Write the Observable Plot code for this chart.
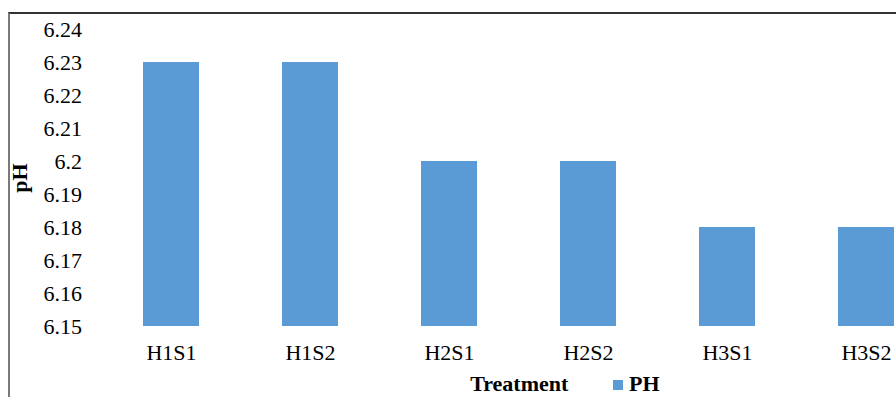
<!DOCTYPE html>
<html>
<head>
<meta charset="utf-8">
<script src="https://cdn.jsdelivr.net/npm/d3@7"></script>
<script src="https://cdn.jsdelivr.net/npm/@observablehq/plot@0.6"></script>
<style>
  html, body { margin: 0; padding: 0; background: #fff; overflow: hidden; }
  #wrap { position: relative; width: 896px; height: 397px; overflow: hidden;
          font-family: "Liberation Serif", "Times New Roman", serif; }
  #wrap svg { display: block; max-width: none; }
  #wrap svg text { font-family: "Liberation Serif", "Times New Roman", serif !important; }
  #wrap g[aria-label$="axis label"] text { font-weight: bold; }
  #frame { position: absolute; left: 8px; top: 12px; right: -4px; bottom: -4px;
           border-top: 2px solid #333; border-left: 2px solid #7a7a7a; pointer-events: none; }
  #legend { position: absolute; left: 613px; top: 372px; font-weight: bold; font-size: 22px;
            line-height: 24px; display: flex; align-items: center; color: #000; }
  #legend .sw { display: inline-block; width: 10px; height: 10px; background: #5B9BD5; margin-right: 6px;
                position: relative; top: 1px; }
</style>
</head>
<body>
<div id="wrap"></div>
<script>
// Soil pH by treatment
const treatments = ["H1S1", "H1S2", "H2S1", "H2S2", "H3S1", "H3S2"];
const phValues = [6.23, 6.23, 6.2, 6.2, 6.18, 6.18];
const yTicks = [6.15, 6.16, 6.17, 6.18, 6.19, 6.2, 6.21, 6.22, 6.23, 6.24];
const seriesName = "PH";
const barColor = "#5B9BD5";

const rows = treatments.map((t, i) => ({treatment: t, ph: phValues[i]}));

const chart = Plot.plot({
  width: 936,
  height: 397,
  marginLeft: 101.5,
  marginRight: 0,
  marginTop: 29,
  marginBottom: 71,
  style: {
    fontFamily: '"Liberation Serif", "Times New Roman", serif',
    fontSize: "22px",
    color: "#000",
    background: "transparent",
    overflow: "visible"
  },
  x: {
    domain: treatments,
    paddingInner: 0.6,
    paddingOuter: 0.3,
    label: "Treatment",
    labelAnchor: "center",
    labelArrow: "none",
    labelOffset: 64,
    tickSize: 0,
    tickPadding: 18
  },
  y: {
    domain: [yTicks[0], yTicks[yTicks.length - 1]],
    ticks: yTicks,
    tickFormat: d => String(d),
    tickSize: 0,
    tickPadding: 20,
    label: "pH",
    labelAnchor: "center",
    labelArrow: "none",
    labelOffset: 91
  },
  marks: [
    Plot.barY(rows, {x: "treatment", y1: yTicks[0], y2: "ph", fill: barColor})
  ]
});

const wrap = document.getElementById("wrap");
wrap.appendChild(chart);

const frame = document.createElement("div");
frame.id = "frame";
wrap.appendChild(frame);

const legend = document.createElement("div");
legend.id = "legend";
const sw = document.createElement("span");
sw.className = "sw";
legend.appendChild(sw);
legend.appendChild(document.createTextNode(seriesName));
wrap.appendChild(legend);
</script>
</body>
</html>
